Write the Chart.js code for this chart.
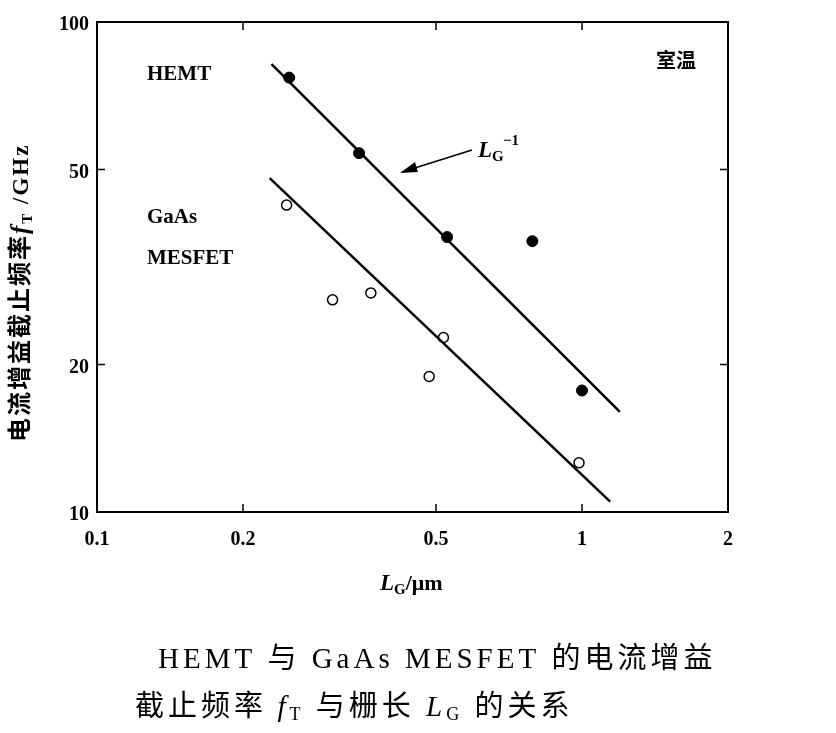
<!DOCTYPE html>
<html>
<head>
<meta charset="utf-8">
<script src="https://cdn.jsdelivr.net/npm/chart.js@4/dist/chart.umd.min.js"></script>
<style>
  body { margin: 0; background: #fff; }
  #wrap { width: 836px; height: 733px; }
</style>
</head>
<body>
<div id="wrap"><canvas id="c" width="836" height="733"></canvas></div>
<script>
// values
const hemtLg = [0.249, 0.347, 0.527, 0.79, 1.0];
const hemtFt = [77, 54, 36.4, 35.7, 17.7];
const mesfetLg = [0.246, 0.306, 0.367, 0.484, 0.518, 0.986];
const mesfetFt = [42.3, 27.1, 28.0, 18.9, 22.7, 12.6];
const hemtFitLg = [0.229, 1.197];
const hemtFitFt = [82, 16.0];
const mesfetFitLg = [0.227, 1.143];
const mesfetFitFt = [48, 10.5];
const xTicks = [0.1, 0.2, 0.5, 1, 2];
const yTicks = [10, 20, 50, 100];

const serif = '"Liberation Serif", "DejaVu Serif", serif';
const cjk = '"Noto Sans CJK SC", sans-serif';

function pts(xs, ys) {
  return xs.map((x, i) => ({ x: x, y: ys[i] }));
}

// draw a run of [text, font, dy] pieces one after another
function run(ctx, x, y, pieces) {
  pieces.forEach(p => {
    ctx.font = p[1];
    ctx.fillText(p[0], x, y + (p[2] || 0));
    x += ctx.measureText(p[0]).width;
  });
  return x;
}

const decor = {
  id: 'decor',
  afterDraw(chart) {
    const ctx = chart.ctx;
    const a = chart.chartArea;
    const xs = chart.scales.x, ys = chart.scales.y;
    ctx.save();
    ctx.strokeStyle = '#000';
    ctx.lineWidth = 2;
    ctx.strokeRect(a.left, a.top, a.right - a.left, a.bottom - a.top);
    ctx.fillStyle = '#000';
    ctx.lineWidth = 1.5;
    // ticks and labels
    ctx.font = 'bold 20px ' + serif;
    ctx.textAlign = 'center';
    ctx.textBaseline = 'top';
    xTicks.forEach(v => {
      const px = xs.getPixelForValue(v);
      ctx.beginPath(); ctx.moveTo(px, a.bottom); ctx.lineTo(px, a.bottom - 8); ctx.stroke();
      ctx.beginPath(); ctx.moveTo(px, a.top); ctx.lineTo(px, a.top + 8); ctx.stroke();
      ctx.fillText(String(v), px, a.bottom + 18);
    });
    ctx.textAlign = 'right';
    ctx.textBaseline = 'middle';
    yTicks.forEach(v => {
      const py = ys.getPixelForValue(v);
      ctx.beginPath(); ctx.moveTo(a.left, py); ctx.lineTo(a.left + 8, py); ctx.stroke();
      ctx.beginPath(); ctx.moveTo(a.right, py); ctx.lineTo(a.right - 8, py); ctx.stroke();
      ctx.fillText(String(v), a.left - 8, py + 3);
    });
    ctx.textBaseline = 'alphabetic';
    ctx.textAlign = 'left';
    // x axis title L_G/μm
    run(ctx, 380, 590, [
      ['L', 'italic bold 23px ' + serif],
      ['G', 'bold 15px ' + serif, 4],
      ['/μm', 'bold 22px ' + serif]
    ]);
    // y axis title
    ctx.save();
    ctx.translate(28, 442);
    ctx.rotate(-Math.PI / 2);
    ctx.letterSpacing = '2px';
    run(ctx, 0, 0, [
      ['电流增益截止频率', 'bold 24px ' + cjk],
      ['f', 'italic bold 25px ' + serif],
      ['T', 'bold 15px ' + serif, 4],
      [' /GHz', 'bold 23px ' + serif]
    ]);
    ctx.restore();
    // annotations
    ctx.font = 'bold 21px ' + serif;
    ctx.fillText('HEMT', 147, 80);
    ctx.fillText('GaAs', 147, 223);
    ctx.fillText('MESFET', 147, 264);
    ctx.font = 'bold 20px ' + cjk;
    ctx.fillText('室温', 656, 68);
    run(ctx, 478, 157, [
      ['L', 'italic bold 23px ' + serif],
      ['G', 'bold 15px ' + serif, 4]
    ]);
    ctx.font = 'bold 15px ' + serif;
    ctx.fillText('−1', 503, 145);
    // arrow
    ctx.lineWidth = 1.5;
    ctx.beginPath(); ctx.moveTo(472, 150); ctx.lineTo(402, 172); ctx.stroke();
    ctx.beginPath();
    ctx.moveTo(400, 173); ctx.lineTo(415, 162); ctx.lineTo(418, 172); ctx.closePath(); ctx.fill();
    // caption
    ctx.letterSpacing = '4px';
    const cf = '29px ' + serif, cc = '29px ' + cjk;
    run(ctx, 158, 668, [
      ['HEMT ', cf], ['与', cc], [' GaAs MESFET ', cf], ['的电流增益', cc]
    ]);
    run(ctx, 135, 716, [
      ['截止频率 ', cc], ['f', 'italic 29px ' + serif], ['T', '18px ' + serif, 4],
      [' ', cf], ['与栅长', cc], [' ', cf], ['L', 'italic 29px ' + serif],
      ['G', '18px ' + serif, 4], [' ', cf], ['的关系', cc]
    ]);
    ctx.restore();
  }
};

new Chart(document.getElementById('c'), {
  type: 'scatter',
  data: {
    datasets: [
      { data: pts(hemtFitLg, hemtFitFt), showLine: true, borderColor: '#000', borderWidth: 2.5, pointRadius: 0 },
      { data: pts(mesfetFitLg, mesfetFitFt), showLine: true, borderColor: '#000', borderWidth: 2.5, pointRadius: 0 },
      { data: pts(hemtLg, hemtFt), backgroundColor: '#000', borderColor: '#000', pointRadius: 5.5 },
      { data: pts(mesfetLg, mesfetFt), backgroundColor: '#fff', borderColor: '#000', borderWidth: 1.5, pointRadius: 5 }
    ]
  },
  options: {
    responsive: false,
    animation: false,
    layout: { padding: { left: 97, right: 108, top: 22, bottom: 221 } },
    plugins: { legend: { display: false }, tooltip: { enabled: false } },
    scales: {
      x: { type: 'logarithmic', min: 0.1, max: 2, display: false },
      y: { type: 'logarithmic', min: 10, max: 100, display: false }
    }
  },
  plugins: [decor]
});
</script>
</body>
</html>
